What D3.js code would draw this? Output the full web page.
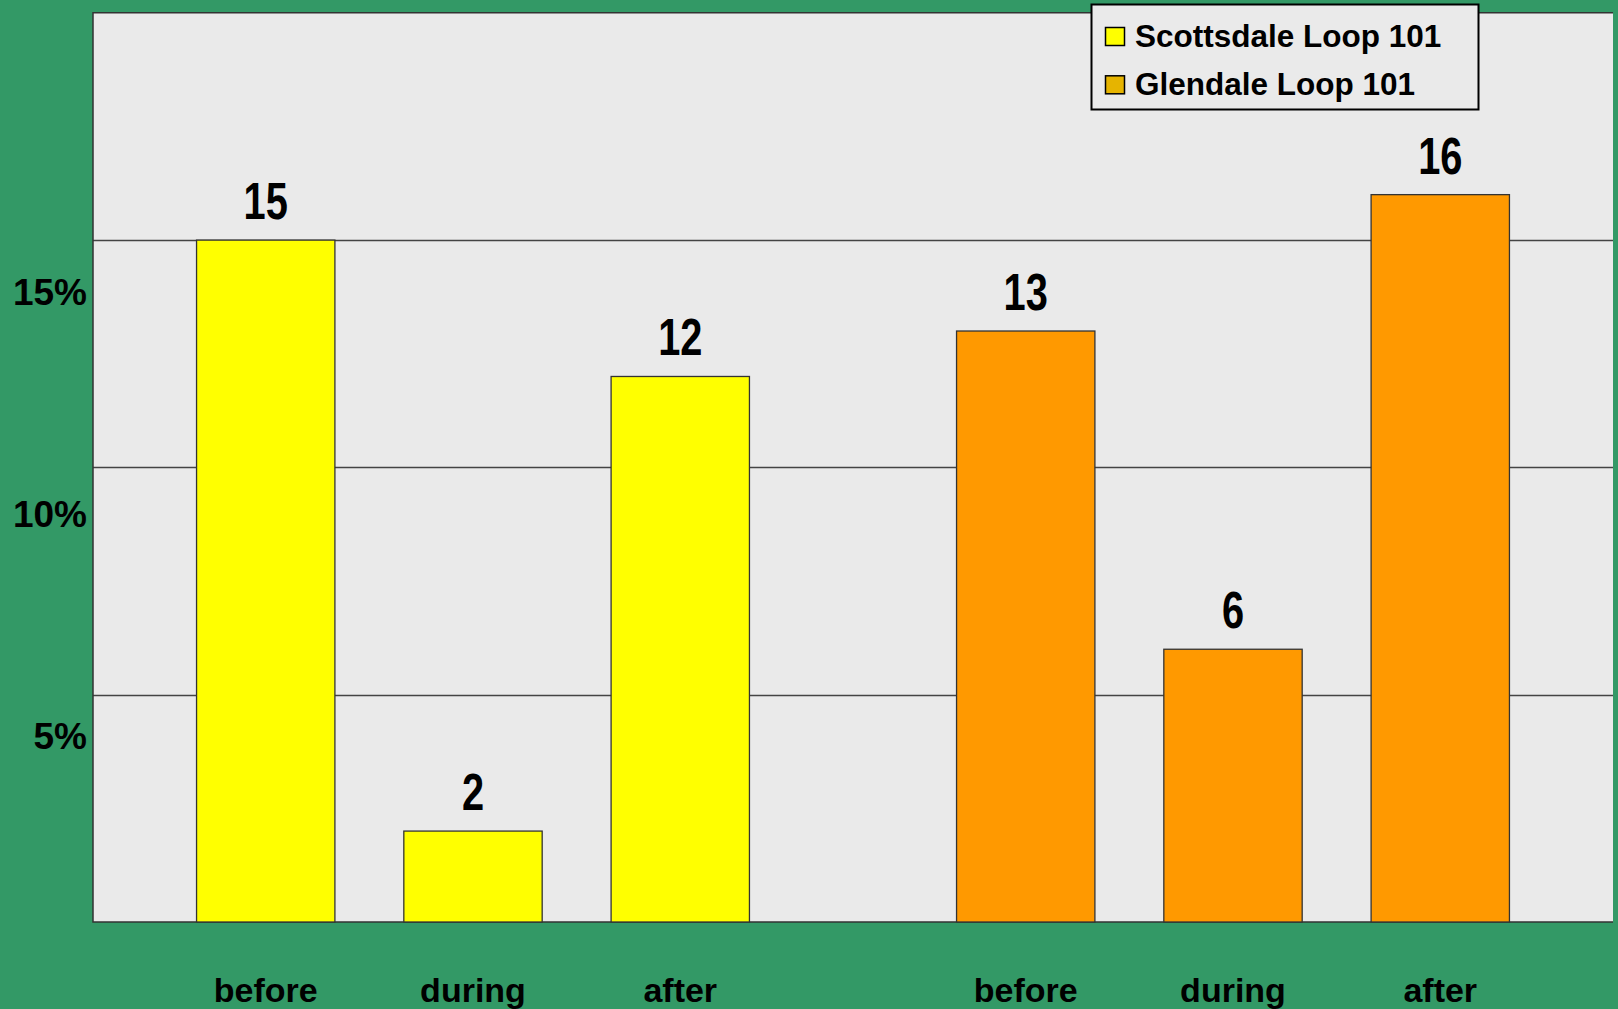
<!DOCTYPE html>
<html>
<head>
<meta charset="utf-8">
<script src="https://cdn.jsdelivr.net/npm/d3@7"></script>
<style>
  html, body { margin: 0; padding: 0; background: #339966; }
  svg { display: block; }
</style>
</head>
<body>
<svg id="chart" width="1618" height="1009"></svg>
<script>
// Share of traffic, by period, for each Loop 101 section
const periods = ["before", "during", "after"];
const seriesNames = ["Scottsdale Loop 101", "Glendale Loop 101"];
const scottsdaleValues = [15, 2, 12];
const glendaleValues = [13, 6, 16];
const barColors = ["#FFFF00", "#FF9900"];
const legendColors = ["#FFFF00", "#E6B400"];
const yTicks = [5, 10, 15];
const yTickLabels = ["5%", "10%", "15%"];

const seriesValues = [scottsdaleValues, glendaleValues];

const svg = d3.select("#chart");
const W = 1618, H = 1009;
const plot = { left: 93, right: 1613, top: 12.8, bottom: 922 };

svg.append("rect").attr("width", W).attr("height", H).attr("fill", "#339966");

const y = d3.scaleLinear().domain([0, 20]).range([plot.bottom, plot.top]);
// Tick labels sit below their gridlines, on a slightly tighter spacing
const yLabel = d3.scaleLinear().domain([0, 20]).range([971.5, 82.9]);

// One band per series, three bars inside each band
const xGroup = d3.scaleBand()
  .domain(seriesNames)
  .range([plot.left, plot.right])
  .paddingInner(0.2725)
  .paddingOuter(0.13625);

const xBar = d3.scaleBand()
  .domain(periods)
  .range([0, xGroup.bandwidth()])
  .paddingInner(0.3325)
  .paddingOuter(0);

// Plot area
svg.append("rect")
  .attr("x", plot.left).attr("y", plot.top)
  .attr("width", plot.right - plot.left).attr("height", plot.bottom - plot.top)
  .attr("fill", "#EAEAEA");

// Gridlines
svg.append("g").selectAll("line").data(yTicks).join("line")
  .attr("x1", plot.left).attr("x2", plot.right)
  .attr("y1", d => Math.round(y(d)) + 0.5).attr("y2", d => Math.round(y(d)) + 0.5)
  .attr("stroke", "#444").attr("stroke-width", 1.3);

// Plot border (top, left, bottom)
svg.append("path")
  .attr("d", `M${plot.right},${plot.top} H${plot.left} V${plot.bottom} H${plot.right}`)
  .attr("fill", "none").attr("stroke", "#333").attr("stroke-width", 1.5);

// Y tick labels
svg.append("g").selectAll("text").data(yTicks).join("text")
  .attr("x", 87).attr("y", d => yLabel(d))
  .attr("text-anchor", "end")
  .attr("font-family", "'Liberation Sans', Arial, sans-serif")
  .attr("font-weight", "bold").attr("font-size", 37).attr("fill", "#000")
  .text((d, i) => yTickLabels[i]);

// Bars and value labels
const groups = svg.append("g").selectAll("g").data(seriesNames).join("g")
  .attr("transform", d => `translate(${xGroup(d)},0)`);

groups.each(function(name, si) {
  const g = d3.select(this);
  const vals = seriesValues[si];
  g.selectAll("rect").data(periods).join("rect")
    .attr("x", p => xBar(p))
    .attr("y", (p, i) => y(vals[i]))
    .attr("width", xBar.bandwidth())
    .attr("height", (p, i) => plot.bottom - y(vals[i]))
    .attr("fill", barColors[si])
    .attr("stroke", "#333").attr("stroke-width", 1.3);

  g.selectAll("g.val").data(periods).join("g")
    .attr("class", "val")
    .attr("transform", (p, i) => `translate(${xBar(p) + xBar.bandwidth() / 2},${y(vals[i]) - 21}) scale(0.78,1)`)
    .append("text")
    .attr("text-anchor", "middle")
    .attr("font-family", "'Liberation Sans', Arial, sans-serif")
    .attr("font-weight", "bold").attr("font-size", 51).attr("fill", "#000")
    .text((p, i) => vals[i]);

  g.selectAll("text.cat").data(periods).join("text")
    .attr("class", "cat")
    .attr("x", p => xBar(p) + xBar.bandwidth() / 2)
    .attr("y", 1001.5)
    .attr("text-anchor", "middle")
    .attr("font-family", "'Liberation Sans', Arial, sans-serif")
    .attr("font-weight", "bold").attr("font-size", 34).attr("fill", "#000")
    .text(p => p);
});

// Legend
const legend = svg.append("g");
legend.append("rect")
  .attr("x", 1091.5).attr("y", 4.5).attr("width", 387).attr("height", 105)
  .attr("fill", "#EAEAEA").attr("stroke", "#000").attr("stroke-width", 2);

const items = legend.selectAll("g.item").data(seriesNames).join("g")
  .attr("class", "item")
  .attr("transform", (d, i) => `translate(0,${i * 48.3})`);
items.append("rect")
  .attr("x", 1105.5).attr("y", 27.5).attr("width", 19).attr("height", 18)
  .attr("fill", (d, i) => legendColors[i]).attr("stroke", "#000").attr("stroke-width", 1.5);
items.append("text")
  .attr("x", 1135).attr("y", 46.7)
  .attr("font-family", "'Liberation Sans', Arial, sans-serif")
  .attr("font-weight", "bold").attr("font-size", 31.5).attr("fill", "#000")
  .text(d => d);
</script>
</body>
</html>
